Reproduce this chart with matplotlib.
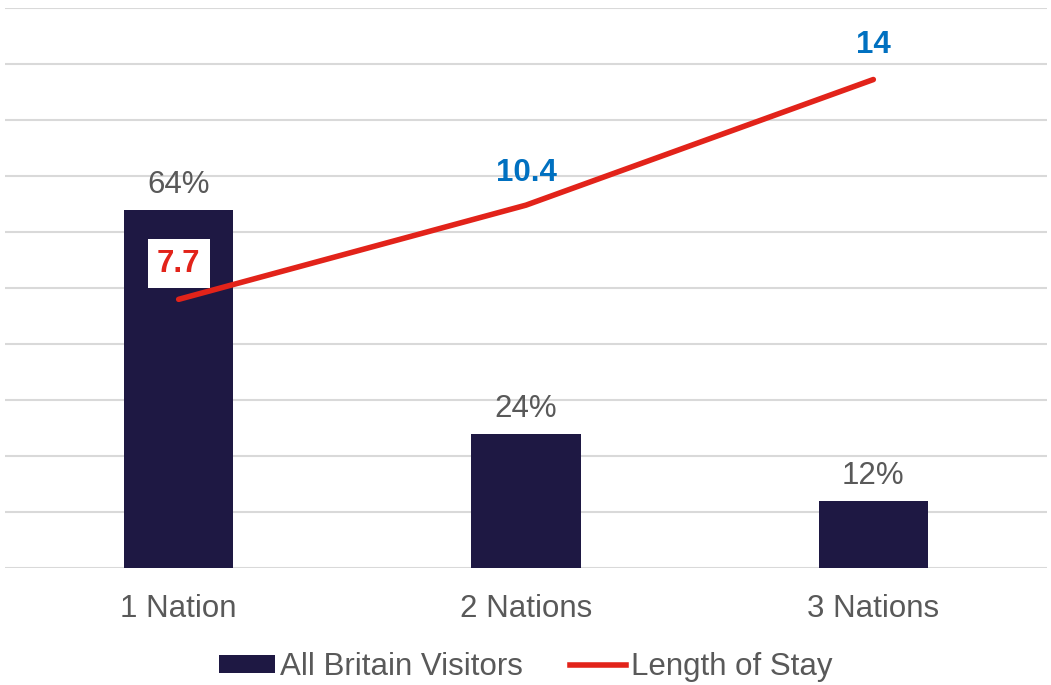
import matplotlib
matplotlib.use("Agg")
import matplotlib.pyplot as plt
from matplotlib.lines import Line2D
from matplotlib.patches import Patch

categories = ["1 Nation", "2 Nations", "3 Nations"]
visitors_pct = [64, 24, 12]
length_of_stay = [7.7, 10.4, 14]
bar_labels = ["64%", "24%", "12%"]
stay_labels = ["7.7", "10.4", "14"]

plt.rcParams['font.family'] = ['Liberation Sans', 'DejaVu Sans']

bar_color = "#1E1843"
line_color = "#E2231A"
text_color = "#595959"
blue = "#0070C0"
FS = 22.5

fig = plt.figure(figsize=(10.51, 6.85), dpi=100)
ax = fig.add_axes([5/1051, 1-568/685, 1042/1051, 560/685])
x = list(range(len(categories)))
ax.bar(x, visitors_pct, width=0.315, color=bar_color, zorder=2)
ax.set_ylim(0, 100)
ax.set_xlim(-0.5, 2.5)
ax.set_yticks(range(0, 101, 10))
ax.yaxis.grid(True, color="#D9D9D9", linewidth=1.5, zorder=0)
ax.set_axisbelow(True)
for s in ax.spines.values():
    s.set_visible(False)
ax.set_xticks(x)
ax.set_xticklabels(categories)

for xi, v, lab in zip(x, visitors_pct, bar_labels):
    ax.annotate(lab, (xi, v), xytext=(0, 7), textcoords="offset points",
                ha="center", va="bottom", fontsize=FS, color=text_color)

ax2 = ax.twinx()
ax2.set_ylim(0, 16.05)
ax2.set_xlim(-0.5, 2.5)
ax2.plot(x, length_of_stay, color=line_color, linewidth=4, solid_capstyle="round", zorder=3)
ax2.axis("off")

ax.tick_params(axis='y', left=False, right=False, labelleft=False, labelright=False)
ax.tick_params(axis='x', bottom=False, labelsize=FS, labelcolor=text_color, pad=15)

# labels for line
ax2.annotate(stay_labels[0], (x[0], length_of_stay[0]), xytext=(0, 15), textcoords="offset points",
             ha="center", va="bottom", fontsize=FS, fontweight="bold", color=line_color,
             bbox=dict(boxstyle="square,pad=0.3", facecolor="white", edgecolor="none"))
ax2.annotate(stay_labels[1], (x[1], length_of_stay[1]), xytext=(0, 12), textcoords="offset points",
             ha="center", va="bottom", fontsize=FS, fontweight="bold", color=blue)
ax2.annotate(stay_labels[2], (x[2], length_of_stay[2]), xytext=(0, 14), textcoords="offset points",
             ha="center", va="bottom", fontsize=FS, fontweight="bold", color=blue)

handles = [Patch(facecolor=bar_color, edgecolor="none"),
           Line2D([0], [0], color=line_color, linewidth=4)]
fig.legend(handles, ["All Britain Visitors", "Length of Stay"], loc="center",
           bbox_to_anchor=(0.5, 1-667/685), ncol=2, frameon=False, fontsize=FS,
           labelcolor=text_color, handlelength=1.8, handletextpad=0.15, columnspacing=1.5,
           handleheight=0.55)

fig.savefig("out.png", dpi=100, facecolor="white")
